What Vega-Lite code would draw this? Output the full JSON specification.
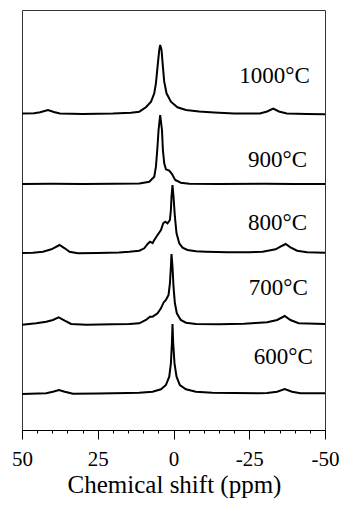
{
  "$schema": "https://vega.github.io/schema/vega-lite/v6.json",
  "width": 303,
  "height": 420,
  "autosize": {"type": "none"},
  "padding": {"left": 22, "top": 10, "right": 16, "bottom": 81},
  "background": "white",
  "config": {
    "view": {"stroke": "#333", "strokeWidth": 1},
    "font": "Liberation Serif",
    "axis": {"labelFont": "Liberation Serif", "titleFont": "Liberation Serif"},
    "text": {"font": "Liberation Serif"}
  },
  "datasets": {
    "spectra": [
      {"series": "1000", "ppm": 50, "v": 316.5}, {"series": "1000", "ppm": 46, "v": 316.8}, {"series": "1000", "ppm": 44, "v": 317.8}, {"series": "1000", "ppm": 41.4, "v": 320}, {"series": "1000", "ppm": 39.5, "v": 318}, {"series": "1000", "ppm": 37.5, "v": 316.5}, {"series": "1000", "ppm": 30, "v": 316}, {"series": "1000", "ppm": 20, "v": 316.5}, {"series": "1000", "ppm": 14, "v": 317.3}, {"series": "1000", "ppm": 11.3, "v": 318.3}, {"series": "1000", "ppm": 9.1, "v": 322.7}, {"series": "1000", "ppm": 7.4, "v": 328.3}, {"series": "1000", "ppm": 6.35, "v": 336.7}, {"series": "1000", "ppm": 5.8, "v": 346.7}, {"series": "1000", "ppm": 5.26, "v": 363.3}, {"series": "1000", "ppm": 4.7, "v": 380}, {"series": "1000", "ppm": 4.4, "v": 385}, {"series": "1000", "ppm": 3.95, "v": 380}, {"series": "1000", "ppm": 3.5, "v": 363.3}, {"series": "1000", "ppm": 3.06, "v": 348.3}, {"series": "1000", "ppm": 2.3, "v": 336.7}, {"series": "1000", "ppm": 0.86, "v": 328.3}, {"series": "1000", "ppm": -1.3, "v": 322.7}, {"series": "1000", "ppm": -4.1, "v": 320}, {"series": "1000", "ppm": -8.45, "v": 318.5}, {"series": "1000", "ppm": -13.4, "v": 317.5}, {"series": "1000", "ppm": -20, "v": 316.5}, {"series": "1000", "ppm": -28.5, "v": 316.5}, {"series": "1000", "ppm": -30.9, "v": 318.5}, {"series": "1000", "ppm": -32.9, "v": 321.5}, {"series": "1000", "ppm": -34.8, "v": 318.5}, {"series": "1000", "ppm": -37.4, "v": 316.5}, {"series": "1000", "ppm": -44, "v": 316}, {"series": "1000", "ppm": -50, "v": 315.8},

      {"series": "900", "ppm": 50, "v": 246}, {"series": "900", "ppm": 40, "v": 246.2}, {"series": "900", "ppm": 30, "v": 246}, {"series": "900", "ppm": 20, "v": 246.3}, {"series": "900", "ppm": 11.25, "v": 246.5}, {"series": "900", "ppm": 8.0, "v": 248.3}, {"series": "900", "ppm": 6.35, "v": 253.3}, {"series": "900", "ppm": 5.8, "v": 263.3}, {"series": "900", "ppm": 5.36, "v": 280}, {"series": "900", "ppm": 4.93, "v": 300}, {"series": "900", "ppm": 4.4, "v": 315}, {"series": "900", "ppm": 3.8, "v": 300}, {"series": "900", "ppm": 3.5, "v": 280}, {"series": "900", "ppm": 3.06, "v": 266.7}, {"series": "900", "ppm": 2.5, "v": 260.7}, {"series": "900", "ppm": 1.4, "v": 259.3}, {"series": "900", "ppm": 0.5, "v": 256}, {"series": "900", "ppm": -0.56, "v": 250}, {"series": "900", "ppm": -2.4, "v": 247.3}, {"series": "900", "ppm": -5.2, "v": 246.3}, {"series": "900", "ppm": -15, "v": 246}, {"series": "900", "ppm": -30, "v": 246.2}, {"series": "900", "ppm": -40, "v": 246}, {"series": "900", "ppm": -50, "v": 246},

      {"series": "800", "ppm": 50, "v": 177}, {"series": "800", "ppm": 46.4, "v": 177.3}, {"series": "800", "ppm": 43.1, "v": 178.3}, {"series": "800", "ppm": 40.3, "v": 180.7}, {"series": "800", "ppm": 37.6, "v": 185}, {"series": "800", "ppm": 35.9, "v": 181.7}, {"series": "800", "ppm": 34.3, "v": 178.3}, {"series": "800", "ppm": 31.6, "v": 176.8}, {"series": "800", "ppm": 25, "v": 177}, {"series": "800", "ppm": 18, "v": 177.5}, {"series": "800", "ppm": 14.6, "v": 178.3}, {"series": "800", "ppm": 11.3, "v": 179.3}, {"series": "800", "ppm": 9.64, "v": 181.7}, {"series": "800", "ppm": 8.55, "v": 186}, {"series": "800", "ppm": 7.76, "v": 188.3}, {"series": "800", "ppm": 6.9, "v": 186.9}, {"series": "800", "ppm": 6.35, "v": 190}, {"series": "800", "ppm": 5.26, "v": 195}, {"series": "800", "ppm": 4.14, "v": 200}, {"series": "800", "ppm": 3.39, "v": 206.7}, {"series": "800", "ppm": 2.73, "v": 208.3}, {"series": "800", "ppm": 1.97, "v": 206.7}, {"series": "800", "ppm": 1.18, "v": 210}, {"series": "800", "ppm": 0.86, "v": 220}, {"series": "800", "ppm": 0.66, "v": 233.3}, {"series": "800", "ppm": 0.33, "v": 245}, {"series": "800", "ppm": 0, "v": 233.3}, {"series": "800", "ppm": -0.46, "v": 213.3}, {"series": "800", "ppm": -1.0, "v": 196.7}, {"series": "800", "ppm": -1.9, "v": 186.7}, {"series": "800", "ppm": -3.0, "v": 182.3}, {"series": "800", "ppm": -4.6, "v": 180}, {"series": "800", "ppm": -7.4, "v": 178.7}, {"series": "800", "ppm": -10.7, "v": 178.3}, {"series": "800", "ppm": -18, "v": 177.8}, {"series": "800", "ppm": -25, "v": 177.7}, {"series": "800", "ppm": -29.4, "v": 178.3}, {"series": "800", "ppm": -33.7, "v": 180.7}, {"series": "800", "ppm": -35.3, "v": 183.3}, {"series": "800", "ppm": -37.0, "v": 186}, {"series": "800", "ppm": -38.6, "v": 182.7}, {"series": "800", "ppm": -40.8, "v": 179.3}, {"series": "800", "ppm": -44.1, "v": 177.7}, {"series": "800", "ppm": -50, "v": 177.3},

      {"series": "700", "ppm": 50, "v": 105.3}, {"series": "700", "ppm": 45.3, "v": 106.7}, {"series": "700", "ppm": 42.0, "v": 108.3}, {"series": "700", "ppm": 39.8, "v": 110}, {"series": "700", "ppm": 37.9, "v": 112.7}, {"series": "700", "ppm": 35.9, "v": 109.3}, {"series": "700", "ppm": 33.8, "v": 106}, {"series": "700", "ppm": 28.8, "v": 105.2}, {"series": "700", "ppm": 20, "v": 105.7}, {"series": "700", "ppm": 14.6, "v": 106}, {"series": "700", "ppm": 11.3, "v": 106.7}, {"series": "700", "ppm": 9.1, "v": 110}, {"series": "700", "ppm": 7.76, "v": 113.3}, {"series": "700", "ppm": 6.9, "v": 113.3}, {"series": "700", "ppm": 5.26, "v": 116.7}, {"series": "700", "ppm": 4.14, "v": 121.7}, {"series": "700", "ppm": 3.3, "v": 127.3}, {"series": "700", "ppm": 2.5, "v": 130}, {"series": "700", "ppm": 1.64, "v": 135}, {"series": "700", "ppm": 1.18, "v": 146.7}, {"series": "700", "ppm": 0.86, "v": 163.3}, {"series": "700", "ppm": 0.66, "v": 176}, {"series": "700", "ppm": 0.33, "v": 163.3}, {"series": "700", "ppm": 0, "v": 143.3}, {"series": "700", "ppm": -0.46, "v": 126.7}, {"series": "700", "ppm": -1.1, "v": 116.7}, {"series": "700", "ppm": -2.4, "v": 110}, {"series": "700", "ppm": -4.1, "v": 107.3}, {"series": "700", "ppm": -7.4, "v": 106}, {"series": "700", "ppm": -15, "v": 105.8}, {"series": "700", "ppm": -23.3, "v": 106.3}, {"series": "700", "ppm": -30.9, "v": 107.7}, {"series": "700", "ppm": -34.2, "v": 110}, {"series": "700", "ppm": -36.7, "v": 114}, {"series": "700", "ppm": -38.6, "v": 110}, {"series": "700", "ppm": -41.3, "v": 106.7}, {"series": "700", "ppm": -50, "v": 106},

      {"series": "600", "ppm": 50, "v": 36}, {"series": "600", "ppm": 42, "v": 36.7}, {"series": "600", "ppm": 39.8, "v": 38.3}, {"series": "600", "ppm": 37.8, "v": 40}, {"series": "600", "ppm": 35.9, "v": 38.3}, {"series": "600", "ppm": 33.2, "v": 36.2}, {"series": "600", "ppm": 25, "v": 36.5}, {"series": "600", "ppm": 15, "v": 37}, {"series": "600", "ppm": 11.3, "v": 37.3}, {"series": "600", "ppm": 6.9, "v": 38.3}, {"series": "600", "ppm": 4.14, "v": 40.7}, {"series": "600", "ppm": 2.5, "v": 45}, {"series": "600", "ppm": 1.4, "v": 53.3}, {"series": "600", "ppm": 0.86, "v": 66.7}, {"series": "600", "ppm": 0.53, "v": 86.7}, {"series": "600", "ppm": 0.33, "v": 106}, {"series": "600", "ppm": 0.1, "v": 86.7}, {"series": "600", "ppm": -0.33, "v": 66.7}, {"series": "600", "ppm": -1.0, "v": 53.3}, {"series": "600", "ppm": -2.1, "v": 45}, {"series": "600", "ppm": -4.1, "v": 40.7}, {"series": "600", "ppm": -7.4, "v": 38.3}, {"series": "600", "ppm": -12.8, "v": 37.3}, {"series": "600", "ppm": -20, "v": 37}, {"series": "600", "ppm": -28, "v": 36.7}, {"series": "600", "ppm": -30.9, "v": 36.9}, {"series": "600", "ppm": -34.2, "v": 38.3}, {"series": "600", "ppm": -36.7, "v": 41}, {"series": "600", "ppm": -39.1, "v": 38.3}, {"series": "600", "ppm": -41.9, "v": 36.7}, {"series": "600", "ppm": -50, "v": 36.7}
    ],
    "labels": [
      {"label": "1000°C", "ppm": -45.0, "v": 347.3},
      {"label": "900°C", "ppm": -44.1, "v": 262.7},
      {"label": "800°C", "ppm": -44.1, "v": 200},
      {"label": "700°C", "ppm": -44.3, "v": 135.3},
      {"label": "600°C", "ppm": -46.0, "v": 66.3}
    ]
  },
  "layer": [
    {
      "data": {"name": "spectra"},
      "mark": {"type": "line", "color": "black", "strokeWidth": 2, "clip": true},
      "encoding": {
        "x": {
          "field": "ppm", "type": "quantitative",
          "scale": {"domain": [50, -50], "nice": false, "zero": false},
          "axis": {
            "orient": "bottom",
            "values": [50, 45, 40, 35, 30, 25, 20, 15, 10, 5, 0, -5, -10, -15, -20, -25, -30, -35, -40, -45, -50],
            "tickCount": 30,
            "tickSize": {"condition": {"test": "datum.value === 50 || datum.value === 25 || datum.value === 0 || datum.value === -25 || datum.value === -50", "value": 9}, "value": 3},
            "tickColor": "black", "tickWidth": 1,
            "domainColor": "black", "domainWidth": 1,
            "grid": false,
            "labelFont": "Liberation Serif", "labelFontSize": 21, "labelColor": "black",
            "labelPadding": 9, "labelFlush": false, "labelOverlap": false,
            "labelExpr": "(datum.value === 50 || datum.value === 25 || datum.value === 0 || datum.value === -25 || datum.value === -50) ? (datum.value < 0 ? '-' + abs(datum.value) : '' + datum.value) : ''",
            "title": "Chemical shift (ppm)",
            "titleFont": "Liberation Serif", "titleFontSize": 25, "titleFontWeight": "normal", "titleColor": "black",
            "titleBaseline": "alphabetic", "titleY": 62, "titleX": 152, "titleAlign": "center"
          }
        },
        "y": {
          "field": "v", "type": "quantitative",
          "scale": {"domain": [0, 420], "nice": false, "zero": false},
          "axis": null
        },
        "detail": {"field": "series"}
      }
    },
    {
      "data": {"name": "labels"},
      "mark": {"type": "text", "align": "right", "baseline": "alphabetic", "font": "Liberation Serif", "fontSize": 23, "color": "black"},
      "encoding": {
        "x": {"field": "ppm", "type": "quantitative"},
        "y": {"field": "v", "type": "quantitative"},
        "text": {"field": "label"}
      }
    }
  ]
}
